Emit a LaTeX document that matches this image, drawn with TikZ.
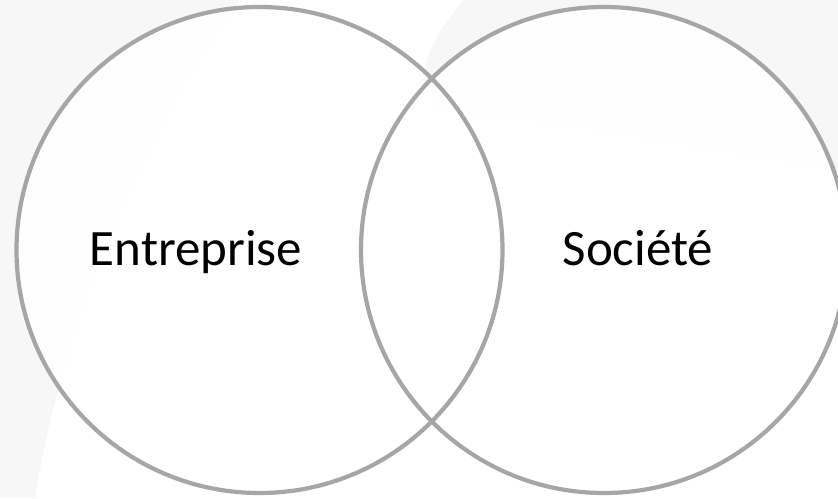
\documentclass[tikz,border=0pt]{standalone}
\usepackage{fontspec}
\setmainfont{Carlito}
\definecolor{bggray}{HTML}{F7F7F7}
\definecolor{ringgray}{HTML}{A6A6A6}
\tikzset{
  ringfill/.style={circle, minimum size=486pt, inner sep=0pt, fill=white, fill opacity=0.93, draw=none},
  ringline/.style={circle, minimum size=486pt, inner sep=0pt, draw=ringgray, line width=4.2pt},
  label/.style={anchor=base, font=\fontsize{51}{60}\selectfont, text=black, inner sep=0pt}
}
\begin{document}
\begin{tikzpicture}[x=1pt,y=-1pt]
\useasboundingbox (0,0) rectangle (838,498);
\clip (0,0) rectangle (838,498);
% background
\fill[white] (0,0) rectangle (838,498);
\fill[bggray] (0,0) -- (240,0) .. controls (170,90) and (70,280) .. (35,498) -- (0,498) -- cycle;
\fill[bggray] (463,0) -- (838,0) -- (838,172) .. controls (760,155) and (560,120) .. (440,110) .. controls (420,80) and (415,60) .. (463,0) -- cycle;
% circle fills
\node[ringfill] (entf) at (259.5,250) {};
\node[ringfill] (socf) at (604,250) {};
% circle outlines
\node[ringline] (ent) at (259.5,250) {};
\node[ringline] (soc) at (604,250) {};
% labels
\node[label] (entl) at (196,265) {Entreprise};
\node[label] (socl) at (638,265) {Société};
\end{tikzpicture}
\end{document}
